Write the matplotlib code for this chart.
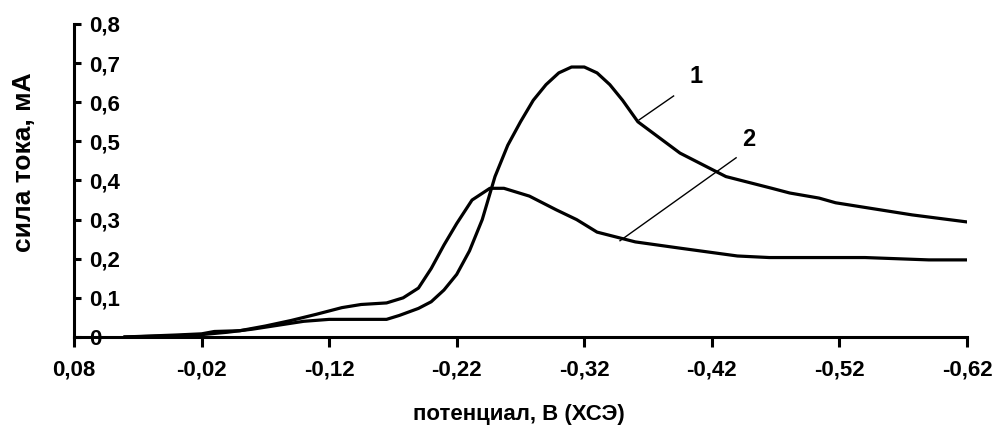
import matplotlib
matplotlib.use('Agg')
import matplotlib.pyplot as plt

plt.rcParams['font.family'] = ['Liberation Sans', 'DejaVu Sans']
plt.rcParams['font.weight'] = 'bold'

# curve 1 (big peak)
v1 = [0.04, 0.0, -0.02, -0.04, -0.06, -0.08, -0.10, -0.12, -0.14, -0.165, -0.175,
      -0.19, -0.20, -0.21, -0.22, -0.23, -0.24, -0.25, -0.26, -0.27, -0.28, -0.29,
      -0.30, -0.31, -0.32, -0.33, -0.34, -0.35, -0.362, -0.395, -0.431, -0.467,
      -0.481, -0.504, -0.517, -0.577, -0.62]
i1 = [0.0, 0.003, 0.006, 0.012, 0.02, 0.03, 0.04, 0.045, 0.045, 0.045, 0.055,
      0.073, 0.09, 0.12, 0.16, 0.22, 0.30, 0.41, 0.49, 0.55, 0.605, 0.645,
      0.675, 0.69, 0.69, 0.675, 0.645, 0.605, 0.55, 0.47, 0.41, 0.38,
      0.368, 0.355, 0.343, 0.312, 0.294]

# curve 2 (low peak)
v2 = [0.04, 0.0, -0.02, -0.03, -0.05, -0.07, -0.09, -0.11, -0.13, -0.145, -0.165,
      -0.178, -0.19, -0.20, -0.21, -0.22, -0.232, -0.246, -0.257, -0.277, -0.298,
      -0.314, -0.33, -0.36, -0.395, -0.44, -0.465, -0.54, -0.59, -0.62]
i2 = [0.0, 0.005, 0.008, 0.014, 0.016, 0.028, 0.042, 0.058, 0.075, 0.083, 0.087,
      0.10, 0.125, 0.175, 0.235, 0.29, 0.35, 0.38, 0.38, 0.36, 0.325,
      0.30, 0.268, 0.243, 0.227, 0.207, 0.203, 0.203, 0.197, 0.197]

xticks = [0.08, -0.02, -0.12, -0.22, -0.32, -0.42, -0.52, -0.62]
xlabels = ['0,08', '-0,02', '-0,12', '-0,22', '-0,32', '-0,42', '-0,52', '-0,62']
yticks = [0, 0.1, 0.2, 0.3, 0.4, 0.5, 0.6, 0.7, 0.8]
ylabels = ['0', '0,1', '0,2', '0,3', '0,4', '0,5', '0,6', '0,7', '0,8']

# curve labels: text pos, leader start, leader end
lab1 = ['1', (-0.408, 0.665), (-0.39, 0.616), (-0.363, 0.555)]
lab2 = ['2', (-0.449, 0.504), (-0.439, 0.458), (-0.348, 0.246)]

fig = plt.figure(figsize=(9.96, 4.26), dpi=100)
ax = fig.add_axes([0.0743, 0.209, 0.8966, 0.7347])

ax.plot(v1, i1, color='black', lw=2.3, solid_joinstyle='round')
ax.plot(v2, i2, color='black', lw=2.3, solid_joinstyle='round')

for txt, tpos, p0, p1 in [lab1, lab2]:
    ax.plot([p0[0], p1[0]], [p0[1], p1[1]], color='black', lw=1)
    ax.text(tpos[0], tpos[1], txt, fontsize=17, fontweight='bold', ha='center', va='center')

ax.set_xlim(0.08, -0.62)
ax.set_ylim(0, 0.8)
ax.set_xticks(xticks)
ax.set_xticklabels(xlabels)
ax.set_yticks(yticks)
ax.set_yticklabels(ylabels, ha='left')

ax.tick_params(axis='x', direction='out', length=7, width=2.2, pad=9, labelsize=16)
ax.tick_params(axis='y', direction='in', length=5, width=2.2, pad=-11, labelsize=16)

for s in ['top', 'right']:
    ax.spines[s].set_visible(False)
for s in ['left', 'bottom']:
    ax.spines[s].set_linewidth(2.2)

ax.set_ylabel('сила тока, мА', fontsize=19, fontweight='bold')
ax.yaxis.set_label_coords(-0.043, 0.56)
ax.set_xlabel('потенциал, В (ХСЭ)', fontsize=16, fontweight='bold')
ax.xaxis.set_label_coords(0.498, -0.215)

fig.savefig('out.png', dpi=100)
